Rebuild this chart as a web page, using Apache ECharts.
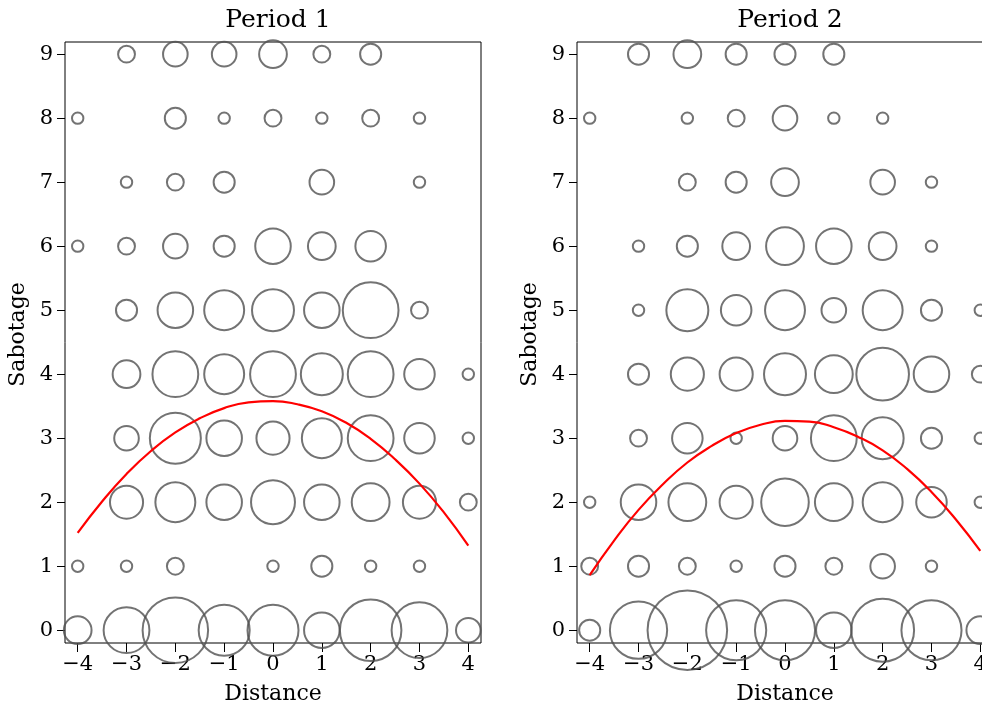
<!DOCTYPE html>
<html>
<head>
<meta charset="utf-8">
<script src="https://cdn.jsdelivr.net/npm/echarts@6/dist/echarts.min.js"></script>
<style>
  html, body { margin: 0; padding: 0; background: #fff; }
  #chart { width: 982px; height: 709px; }
</style>
</head>
<body>
<div id="chart"></div>
<script>
const distances = [-4, -3, -2, -1, 0, 1, 2, 3, 4]
const sabotageLevels = [0, 1, 2, 3, 4, 5, 6, 7, 8, 9]
const xTickLabels = ['\u22124', '\u22123', '\u22122', '\u22121', '0', '1', '2', '3', '4']
const panelTitles = ['Period 1', 'Period 2']

// number of observations per cell, rows = sabotage 0..9, columns = distance -4..4
const period1Counts = [
  [5, 13, 26, 16, 16, 8, 23, 19, 4],
  [1, 1, 2, 0, 1, 3, 1, 1, 0],
  [0, 7, 10, 8, 12, 8, 9, 7, 2],
  [0, 4, 16, 8, 7, 10, 13, 6, 1],
  [0, 5, 13, 10, 13, 11, 13, 6, 1],
  [0, 3, 8, 10, 11, 8, 19, 2, 0],
  [1, 2, 4, 3, 8, 5, 6, 0, 0],
  [0, 1, 2, 3, 0, 4, 0, 1, 0],
  [1, 0, 3, 1, 2, 1, 2, 1, 0],
  [0, 2, 4, 4, 5, 2, 3, 0, 0]
]

const period2Counts = [
  [3, 20, 38, 22, 22, 8, 24, 22, 5],
  [2, 3, 2, 1, 3, 2, 4, 1, 0],
  [1, 8, 9, 7, 14, 9, 10, 6, 1],
  [0, 2, 6, 1, 4, 13, 11, 3, 1],
  [0, 3, 7, 7, 11, 9, 17, 8, 2],
  [0, 1, 11, 6, 10, 4, 10, 3, 1],
  [0, 1, 3, 5, 9, 8, 5, 1, 0],
  [0, 0, 2, 3, 5, 0, 4, 1, 0],
  [1, 0, 1, 2, 4, 1, 1, 0, 0],
  [0, 3, 5, 3, 3, 3, 0, 0, 0]
]

// fitted curve
const fitDistance = [-4, -3.5, -3, -2.5, -2, -1.5, -1, -0.5, 0, 0.5, 1, 1.5, 2, 2.5, 3, 3.5, 4]
const period1Fit = [1.52, 2.01, 2.44, 2.80, 3.09, 3.31, 3.47, 3.56, 3.58, 3.53, 3.42, 3.24, 2.99, 2.67, 2.29, 1.84, 1.32]
const period2Fit = [0.86, 1.40, 1.88, 2.28, 2.62, 2.88, 3.08, 3.21, 3.27, 3.26, 3.17, 3.02, 2.81, 2.52, 2.16, 1.73, 1.24]

const FONT = 'DejaVu Serif'
const panels = [
  { left: 65, counts: period1Counts, fit: period1Fit },
  { left: 577, counts: period2Counts, fit: period2Fit }
]

const toPoints = counts => {
  const pts = []
  counts.forEach((row, i) => {
    row.forEach((n, j) => {
      if (n > 0) pts.push([distances[j], sabotageLevels[i], n])
    })
  })
  return pts
}

const chart = echarts.init(document.getElementById('chart'))

const option = {
  animation: false,
  backgroundColor: '#fff',
  title: panels.map((p, i) => ({
    text: panelTitles[i],
    left: p.left + 208,
    top: 3,
    textAlign: 'center',
    textStyle: { fontFamily: FONT, fontSize: 25, fontWeight: 'normal', color: '#000' }
  })),
  grid: panels.map(p => ({
    left: p.left,
    top: 42,
    width: 416,
    height: 601,
    outerBoundsMode: 'none',
    containLabel: false,
    show: true,
    borderColor: '#000',
    borderWidth: 1,
    backgroundColor: 'transparent'
  })),
  xAxis: panels.map((p, i) => ({
    type: 'value',
    gridIndex: i,
    min: -4.26,
    max: 4.26,
    name: 'Distance',
    nameLocation: 'middle',
    nameGap: 40,
    nameTextStyle: { fontFamily: FONT, fontSize: 22, color: '#000' },
    axisLine: { show: false, onZero: false },
    splitLine: { show: false },
    axisTick: {
      show: true,
      length: 9,
      customValues: distances,
      lineStyle: { color: '#000', width: 1 }
    },
    axisLabel: {
      customValues: distances,
      margin: 11,
      fontFamily: FONT,
      fontSize: 21,
      color: '#000',
      formatter: v => xTickLabels[distances.indexOf(Math.round(v))]
    }
  })),
  yAxis: panels.map((p, i) => ({
    type: 'value',
    gridIndex: i,
    min: -0.2,
    max: 9.19,
    name: 'Sabotage',
    nameLocation: 'middle',
    nameGap: 36,
    nameTextStyle: { fontFamily: FONT, fontSize: 22, color: '#000', padding: [0, 0, 0, 16] },
    axisLine: { show: false, onZero: false },
    splitLine: { show: false },
    axisTick: {
      show: true,
      length: 8,
      customValues: sabotageLevels,
      lineStyle: { color: '#000', width: 1 }
    },
    axisLabel: {
      customValues: sabotageLevels,
      margin: 12,
      fontFamily: FONT,
      fontSize: 21,
      color: '#000'
    }
  })),
  series: [
    ...panels.map((p, i) => ({
      type: 'scatter',
      xAxisIndex: i,
      yAxisIndex: i,
      clip: false,
      data: toPoints(p.counts),
      symbol: 'circle',
      symbolSize: val => 13.2 * Math.sqrt(val[2]) - 1.8,
      itemStyle: { color: 'rgba(0,0,0,0)', borderColor: '#505050', borderWidth: 2 },
      emphasis: { disabled: true }
    })),
    ...panels.map((p, i) => ({
      type: 'line',
      xAxisIndex: i,
      yAxisIndex: i,
      clip: false,
      smooth: true,
      showSymbol: false,
      data: fitDistance.map((x, k) => [x, p.fit[k]]),
      lineStyle: { color: '#ff0000', width: 2.2 },
      z: 5
    }))
  ]
}

chart.setOption(option)
</script>
</body>
</html>
